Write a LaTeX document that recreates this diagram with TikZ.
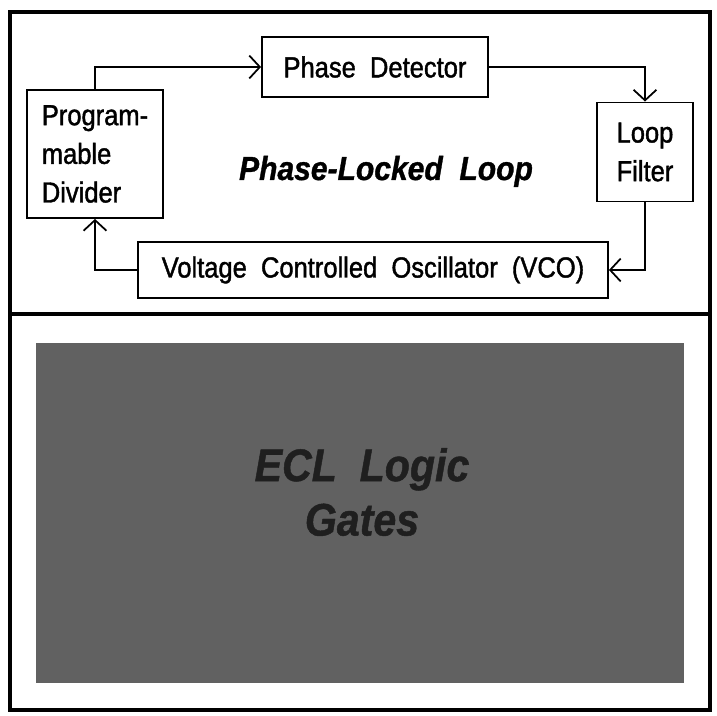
\documentclass[tikz,border=0pt]{standalone}
\usepackage{fontspec}
\setmainfont{Liberation Sans}[WordSpace=2]
\newfontfamily\boxfont{Liberation Sans}[WordSpace=2, FakeStretch=0.88, FakeBold=1.4]
\newfontfamily\headfont{Liberation Sans}[WordSpace=2, FakeStretch=0.9, FakeBold=1]
\usepackage{xcolor}
\usepackage{tikz}
\usetikzlibrary{arrows.meta}
\usetikzlibrary{positioning}
\tikzstyle{process} = [rectangle, text centered, inner sep=0pt, draw=black, line width=1.1pt, font=\boxfont\fontsize{16.5}{22}\selectfont]
\tikzstyle{arrow} = [line width=1pt, -{Straight Barb[length=6pt,width=13pt]}]
\tikzstyle{frame} = [line width=2pt]

\begin{document}
\begin{tikzpicture}[x=0.02cm, y=-0.02cm]
    \useasboundingbox (0,0) rectangle (717,716);
    \draw[frame] (10,12) rectangle (710,710);
    \draw[frame] (10,314) -- (710,314);
    % upper panel: the loop
    \node(pd)[process, minimum width=4.52cm, minimum height=1.2cm] at (375,67) {Phase Detector};
    \node(div)[process, minimum width=2.72cm, minimum height=2.56cm, align=left] at (95,154) {Program-\\mable\\Divider};
    \node(lf)[process, minimum width=1.92cm, minimum height=1.98cm, align=center] at (645,152) {Loop\\Filter};
    \node(vco)[process, minimum width=9.4cm, minimum height=1.12cm] at (373,270) {Voltage Controlled Oscillator (VCO)};
    \node(title)[anchor=base, font=\headfont\fontsize{19}{22}\selectfont\bfseries\itshape] at (386,180) {Phase-Locked Loop};
    \draw[arrow](div.north) |- (pd.west);
    \draw[arrow](pd.east) -| (lf.north);
    \draw[arrow](lf.south) |- (vco.east);
    \draw[arrow](vco.west) -| (div.south);
    % lower panel
    \fill[black!62] (36,343) rectangle (684,683);
    \node(ecl)[align=center, text=black!88, font=\headfont\fontsize{26}{31}\selectfont\bfseries\itshape] at (362,492) {ECL Logic\\Gates};
  \end{tikzpicture}
\end{document}
